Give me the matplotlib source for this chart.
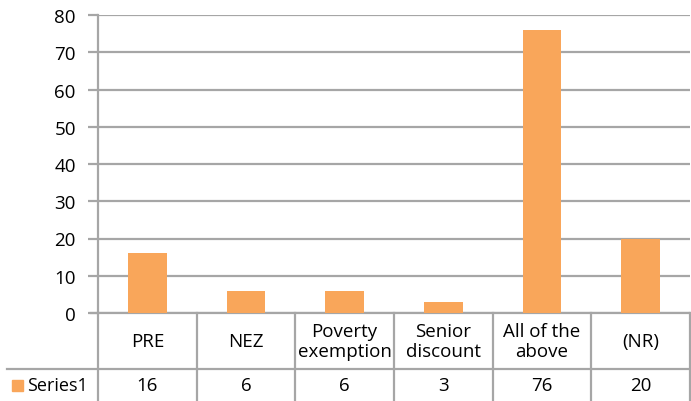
"""Excel-style column chart with a data table underneath."""

import matplotlib
matplotlib.use("Agg")
import matplotlib.pyplot as plt
import matplotlib.transforms as mtransforms
import numpy as np

categories = ["PRE", "NEZ", "Poverty\nexemption", "Senior\ndiscount", "All of the\nabove", "(NR)"]
values = [16, 6, 6, 3, 76, 20]
series_name = "Series1"
yticks = [0, 10, 20, 30, 40, 50, 60, 70, 80]

BAR = "#F9A65A"
GRID = "#A6A6A6"
FONT = "Open Sans"

plt.rcParams["font.family"] = [FONT, "DejaVu Sans"]

fig = plt.figure(figsize=(6.91, 4.02), dpi=100)
W, H = 691, 402
left, right, y0, y80 = 98, 690, 314, 16
ax = fig.add_axes([left / W, (H - y0) / H, (right - left) / W, (y0 - y80) / H])

x = np.arange(len(categories))
ax.bar(x, values, width=0.39, color=BAR, zorder=3)
ax.set_xlim(-0.5, len(categories) - 0.5)
ax.set_ylim(0, 80)
ax.set_yticks(yticks)
ax.tick_params(axis="y", length=7, width=1.6, color=GRID, labelsize=13.5, pad=9)
ax.tick_params(axis="x", bottom=False, labelbottom=False)
ax.grid(axis="y", color=GRID, lw=1.6, zorder=0)
for side in ["top", "right", "bottom"]:
    ax.spines[side].set_visible(False)
ax.spines["left"].set_color(GRID)
ax.spines["left"].set_linewidth(1.6)

# data table below the plot, x in data units, y in axes fraction
trans = mtransforms.blended_transform_factory(ax.transData, ax.transAxes)
ph = y0 - y80
row1 = -(370 - y0) / ph
row2 = -(402 - y0) / ph
line_kw = dict(color=GRID, lw=1.6, clip_on=False, transform=trans)

ax.plot([-0.5 - 7 / 99, len(categories) - 0.5], [0, 0], **line_kw)
ax.plot([-0.5 - 91 / 99, len(categories) - 0.5], [row1, row1], **line_kw)
for b in np.arange(len(categories) + 1) - 0.5:
    ax.plot([b, b], [0, row2], **line_kw)

for xi, cat, v in zip(x, categories, values):
    ax.text(xi, row1 / 2, cat, ha="center", va="center", fontsize=13.5,
            linespacing=1.15, transform=trans)
    ax.text(xi, (row1 + row2) / 2, str(v), ha="center", va="center",
            fontsize=13.5, transform=trans)

# legend key in the table's row header
fig.patches.append(plt.Rectangle((12 / W, (H - 392) / H), 11 / W, 11 / H,
                                 color=BAR, transform=fig.transFigure))
fig.text(27 / W, (H - 386) / H, series_name, ha="left", va="center", fontsize=13)

fig.savefig("out.png", dpi=100)
